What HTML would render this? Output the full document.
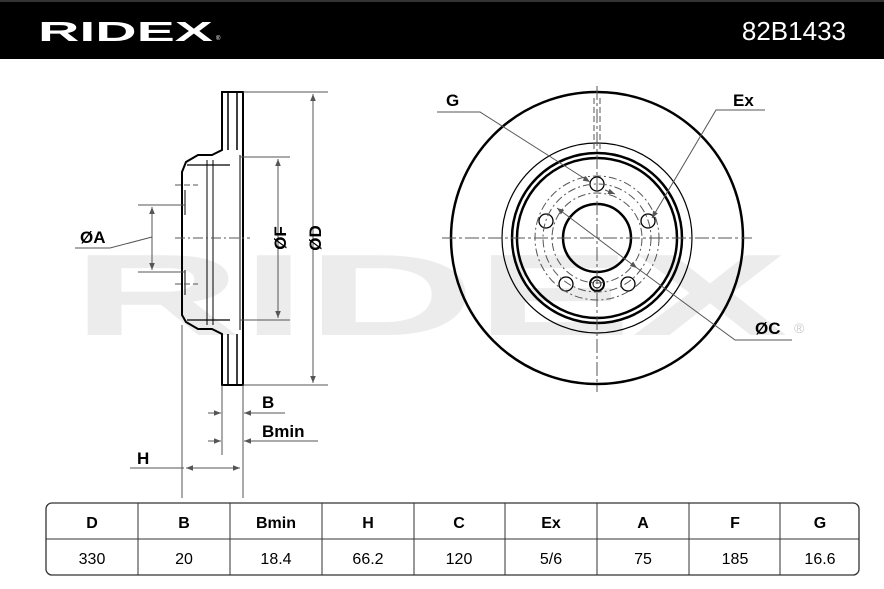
<!DOCTYPE html>
<html><head><meta charset="utf-8"><style>
html,body{margin:0;padding:0;background:#fff;}
svg{display:block;font-family:"Liberation Sans",Arial,sans-serif;}
</style></head><body>
<svg width="884" height="589" viewBox="0 0 884 589" xmlns="http://www.w3.org/2000/svg">
<defs>
<marker id="ar" viewBox="0 0 10 10" refX="10" refY="5" markerWidth="7" markerHeight="7" orient="auto-start-reverse"><path d="M0,1 L10,5 L0,9 z" fill="#555"/></marker>
</defs>
<rect x="0" y="0" width="884" height="59" fill="#000"/>
<rect x="0" y="0" width="884" height="2" fill="#333"/>
<text x="38" y="41" fill="#fff" font-size="28" font-weight="bold" textLength="175" lengthAdjust="spacingAndGlyphs">RIDEX</text>
<text x="216" y="40" fill="#fff" font-size="6">®</text>
<text x="846" y="40" fill="#fff" font-size="26" text-anchor="end">82B1433</text>

<!-- watermark -->
<text x="72" y="335" fill="#ececec" font-size="116" font-weight="bold" textLength="716" lengthAdjust="spacingAndGlyphs">RIDEX</text>

<!-- side view -->
<g fill="none" stroke="#000" stroke-width="2">
<path d="M222,92 V150 L212,155 H198 L186,162 L182,172 V315 L186,322 L198,329 H212 L222,334 V385 H243 V92 Z"/>
<path d="M228,92 V150 M237,92 V150 M228,334 V385 M237,334 V385" stroke-width="1.5"/>
<path d="M187,165 H230 M187,320 H230" stroke-width="1.2"/>
<path d="M207,160 V325 M213,160 V325 M240,155 V330" stroke-width="1"/>
<path d="M185,190 V215 M185,270 V295" stroke-width="1"/>
</g>
<g stroke="#555" stroke-width="1" fill="none">
<path d="M175,238 H250" stroke-dasharray="10,3,2,3"/>
<path d="M175,185 H198 M175,284 H198" stroke-dasharray="6,3"/>
<path d="M243,92 H328 M243,385 H328 M240,157 H290 M240,320 H290"/>
<path d="M313,94 V383" marker-start="url(#ar)" marker-end="url(#ar)"/>
<path d="M278,159 V318" marker-start="url(#ar)" marker-end="url(#ar)"/>
<path d="M138,205 H185 M138,272 H185"/>
<path d="M152,207 V270" marker-start="url(#ar)" marker-end="url(#ar)"/>
<path d="M75,248 H110 L152,237"/>
<path d="M222,385 V455 M243,385 V498 M182,325 V498"/>
<path d="M208,413 H221" marker-end="url(#ar)"/><path d="M285,413 H244" marker-end="url(#ar)"/>
<path d="M208,441 H221" marker-end="url(#ar)"/><path d="M318,441 H244" marker-end="url(#ar)"/>
<path d="M130,468 H184" /><path d="M186,468 H240" marker-start="url(#ar)" marker-end="url(#ar)"/>
</g>
<g font-weight="bold" font-size="17" fill="#000">
<text x="262" y="408">B</text>
<text x="262" y="437">Bmin</text>
<text x="137" y="464">H</text>
<text x="80" y="243">ØA</text>
<text transform="translate(286,238) rotate(-90)" text-anchor="middle">ØF</text>
<text transform="translate(321,238) rotate(-90)" text-anchor="middle">ØD</text>
</g>

<!-- front view -->
<g fill="none" stroke="#000">
<circle cx="597" cy="238" r="146" stroke-width="2.5"/>
<circle cx="597" cy="238" r="95" stroke-width="1.2"/>
<circle cx="597" cy="238" r="85" stroke-width="2.5"/>
<circle cx="597" cy="238" r="80" stroke-width="2.5"/>
<circle cx="597" cy="238" r="34" stroke-width="2.5"/>
<g stroke-width="1.3">
<circle cx="597" cy="184" r="7"/><circle cx="648" cy="221" r="7"/><circle cx="628" cy="284" r="7"/>
<circle cx="566" cy="284" r="7"/><circle cx="546" cy="221" r="7"/>
</g>
<circle cx="597" cy="284" r="7" stroke-width="2"/><circle cx="597" cy="284" r="4" stroke-width="1"/>
</g>
<g stroke="#555" stroke-width="1" fill="none">
<circle cx="597" cy="238" r="54" stroke-dasharray="8,3,2,3"/>
<circle cx="597" cy="238" r="45" stroke-dasharray="8,3,2,3"/>
<circle cx="597" cy="238" r="62" stroke-dasharray="8,3,2,3"/>
<path d="M597,86 V392 M442,238 H752" stroke-dasharray="14,3,3,3"/>
<path d="M594,98 V150 M600,98 V150" stroke-dasharray="6,3"/>
<path d="M437,112 H480 L590,182" marker-end="url(#ar)"/>
<path d="M765,110 H716 L652,218" marker-end="url(#ar)"/>
<path d="M557,208 L637,268" marker-start="url(#ar)" marker-end="url(#ar)"/>
<path d="M637,268 L735,340 H792"/>
<path d="M605,190 L615,194" marker-end="url(#ar)"/>
</g>
<g font-weight="bold" font-size="17" fill="#000">
<text x="446" y="106">G</text>
<text x="733" y="106">Ex</text>
<text x="755" y="334">ØC</text>
</g>
<text x="794" y="333" font-size="14" fill="#ccc">®</text>

<!-- table -->
<rect x="46" y="503" width="813" height="72" rx="6" fill="none" stroke="#333" stroke-width="1.3"/>
<path d="M46,539 H859 M138,503 V575 M230,503 V575 M322,503 V575 M414,503 V575 M505,503 V575 M597,503 V575 M689,503 V575 M780,503 V575" stroke="#333" stroke-width="1"/>
<g font-size="16" text-anchor="middle" fill="#000">
<g font-weight="bold">
<text x="92" y="528">D</text><text x="184" y="528">B</text><text x="276" y="528">Bmin</text><text x="368" y="528">H</text><text x="459" y="528">C</text><text x="551" y="528">Ex</text><text x="643" y="528">A</text><text x="735" y="528">F</text><text x="820" y="528">G</text>
</g>
<text x="92" y="564">330</text><text x="184" y="564">20</text><text x="276" y="564">18.4</text><text x="368" y="564">66.2</text><text x="459" y="564">120</text><text x="551" y="564">5/6</text><text x="643" y="564">75</text><text x="735" y="564">185</text><text x="820" y="564">16.6</text>
</g>
</svg>
</body></html>
